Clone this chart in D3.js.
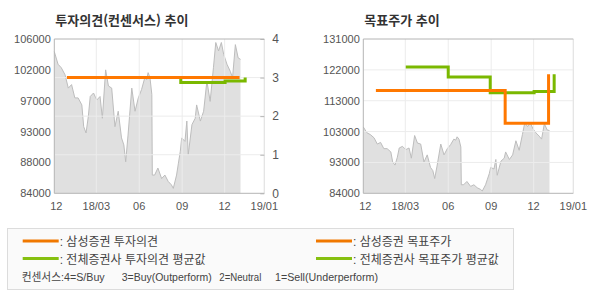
<!DOCTYPE html>
<html lang="ko">
<head>
  <meta charset="utf-8">
  <title>투자의견 / 목표주가 추이</title>
  <script src="https://d3js.org/d3.v7.min.js"></script>
  <style>
    body { margin: 0; background: #fff; }
    text { font-family: "Liberation Sans", "Noto Sans CJK KR", sans-serif; }
    .num { font-family: "Liberation Sans", Arial, sans-serif; font-size: 11px; fill: #555; }
  </style>
</head>
<body>
  <div id="chart"></div>

  <script>
    // price (same series on both charts)
    var priceDates = ["2017-12-01","2017-12-09","2017-12-16","2017-12-24","2017-12-31","2018-01-07","2018-01-14",
      "2018-01-21","2018-01-29","2018-02-02","2018-02-07","2018-02-12","2018-02-16","2018-02-23","2018-03-02",
      "2018-03-09","2018-03-14","2018-03-21","2018-03-27","2018-04-03","2018-04-10","2018-04-17","2018-04-24",
      "2018-04-29","2018-05-03","2018-05-08","2018-05-16","2018-05-23","2018-05-30","2018-06-06","2018-06-13",
      "2018-06-17","2018-06-20","2018-06-24","2018-06-28","2018-06-29","2018-07-04","2018-07-11","2018-07-19",
      "2018-07-26","2018-08-02","2018-08-09","2018-08-13","2018-08-20","2018-08-24","2018-08-28","2018-08-31",
      "2018-09-07","2018-09-11","2018-09-14","2018-09-22","2018-09-29","2018-10-02","2018-10-10","2018-10-17",
      "2018-10-24","2018-10-31","2018-11-07","2018-11-12","2018-11-18","2018-11-24","2018-11-29","2018-12-06",
      "2018-12-13","2018-12-18","2018-12-24","2018-12-30","2019-01-04"];
    var priceValues = [104200,102400,101900,100900,99000,99500,97600,
      97600,96600,93500,92600,95000,97800,98300,97300,
      97800,94700,101600,99300,99000,93500,95700,91900,
      90900,88500,92300,99000,95700,97600,98800,100500,
      100200,101200,100500,98100,86600,86600,87600,86100,
      86600,85700,85200,84700,86600,88300,90000,91900,
      91400,94300,89500,93800,94700,96600,94300,95700,
      100000,97100,101900,105500,104300,105500,103800,102400,
      101400,100500,105200,103300,103100];

    // investment opinion (0~4)
    var opinionDates = ["2017-12-28","2019-01-02"];
    var opinionValues = [3, 3];
    var opinionAvgDates = ["2018-08-29","2018-08-29","2018-12-02","2019-01-14"];
    var opinionAvgValues = [3.0, 2.87, 2.91, 3.0];

    // target price
    var targetDates = ["2017-12-28","2018-10-01","2019-01-02"];
    var targetValues = [115300, 105300, 120300];
    var targetAvgDates = ["2018-03-02","2018-06-01","2018-08-30","2018-12-02","2019-01-14"];
    var targetAvgValues = [122500, 119400, 114600, 115000, 120300];

    // axes
    var xTickDates = ["2017-12-01","2018-03-01","2018-06-01","2018-09-01","2018-12-01","2019-02-24"];
    var xTickLabels = ["12","18/03","06","09","12","19/01"];
    var leftDomain = [84000, 106000];
    var leftTickLabels = ["84000","88000","93000","97000","102000","106000"];
    var rightDomain = [84000, 131000];
    var rightTickLabels = ["84000","93000","103000","113000","122000","131000"];
    var opinionTicks = [0, 1, 2, 3, 4];

    var ORANGE = "#ff7800", GREEN = "#7ab800";
    var W = 590, H = 300, PW = 210, PH = 154.3, TOP = 39;

    var parse = d3.timeParse("%Y-%m-%d");
    var svg = d3.select("#chart").append("svg").attr("width", W).attr("height", H);

    var x = d3.scaleTime()
      .domain([parse(xTickDates[0]), parse(xTickDates[xTickDates.length - 1])])
      .range([0, PW]);

    var price = priceDates.map(function (d, i) { return { d: parse(d), v: priceValues[i] }; });
    function pts(dates, vals) {
      return dates.map(function (d, i) { return { d: parse(d), v: vals[i] }; });
    }

    function drawPanel(left, title, domain, tickLabels) {
      var g = svg.append("g").attr("transform", "translate(" + left + "," + TOP + ")");
      var y = d3.scaleLinear().domain(domain).range([PH, 0]);
      var yTicks = d3.range(6).map(function (i) { return domain[0] + (domain[1] - domain[0]) * i / 5; });

      svg.append("text").attr("x", left + 1).attr("y", 25)
        .style("font-family", "'Noto Sans CJK KR', sans-serif")
        .style("font-size", "13px").style("font-weight", "bold").style("fill", "#333")
        .text(title);

      // price area
      g.append("path").datum(price)
        .attr("fill", "#e0e0e0")
        .attr("d", d3.area().x(function (d) { return x(d.d); }).y0(PH).y1(function (d) { return y(d.v); }));
      g.append("path").datum(price)
        .attr("fill", "none").attr("stroke", "#bdbdbd").attr("stroke-width", 1)
        .attr("d", d3.line().x(function (d) { return x(d.d); }).y(function (d) { return y(d.v); }));

      // vertical grid
      g.selectAll(".vg").data(xTickDates.slice(1)).enter().append("line")
        .attr("x1", function (d) { return x(parse(d)); }).attr("x2", function (d) { return x(parse(d)); })
        .attr("y1", 0).attr("y2", PH).attr("stroke", "#ececec");

      // left axis labels
      g.selectAll(".yl").data(yTicks).enter().append("text")
        .attr("class", "num").attr("text-anchor", "end")
        .attr("x", -3.5).attr("y", function (d) { return y(d) + 4; })
        .text(function (d, i) { return tickLabels[i]; });

      // x labels
      g.selectAll(".xl").data(xTickDates).enter().append("text")
        .attr("class", "num").attr("text-anchor", "middle")
        .attr("x", function (d, i) { return x(parse(d)) + (i == 0 ? 2 : 0); }).attr("y", PH + 17)
        .text(function (d, i) { return xTickLabels[i]; });

      return { g: g, y: y, yTicks: yTicks };
    }

    function stepLine(g, data, xs, ys, color) {
      g.append("path").datum(data)
        .attr("fill", "none").attr("stroke", color).attr("stroke-width", 3)
        .attr("d", d3.line().curve(d3.curveStepAfter)
          .x(function (d) { return xs(d.d); }).y(function (d) { return ys(d.v); }));
    }

    // ---- left: 투자의견 ----
    var L = drawPanel(54.3, "투자의견(컨센서스) 추이", leftDomain, leftTickLabels);
    var yOp = d3.scaleLinear().domain([0, 4]).range([PH, 0]);
    L.g.selectAll(".hg").data(opinionTicks.slice(1, 4)).enter().append("line")
      .attr("x1", 0).attr("x2", PW).attr("y1", function (d) { return yOp(d); }).attr("y2", function (d) { return yOp(d); })
      .attr("stroke", "#ececec");
    L.g.append("line").attr("x1", PW).attr("x2", PW).attr("y1", 0).attr("y2", PH).attr("stroke", "#e3e3e3");
    L.g.append("line").attr("x1", 0).attr("x2", PW).attr("y1", 0).attr("y2", 0).attr("stroke", "#b4b4b4");
    L.g.append("line").attr("x1", 0).attr("x2", 0).attr("y1", 0).attr("y2", PH).attr("stroke", "#b4b4b4");
    L.g.append("line").attr("x1", 0).attr("x2", PW).attr("y1", PH).attr("y2", PH).attr("stroke", "#b4b4b4");
    var ra = L.g.append("g").attr("transform", "translate(" + PW + ",0)")
      .call(d3.axisRight(yOp).tickValues(opinionTicks).tickSize(-4).tickPadding(8).tickFormat(d3.format("d")));
    ra.select(".domain").remove();
    ra.selectAll("line").attr("stroke", "#b4b4b4");
    ra.selectAll("text").attr("class", "num").attr("font-family", null).attr("font-size", null).style("font-size", "12px");

    stepLine(L.g, pts(opinionAvgDates, opinionAvgValues), x, yOp, GREEN);
    stepLine(L.g, pts(opinionDates, opinionValues), x, yOp, ORANGE);

    // ---- right: 목표주가 ----
    var R = drawPanel(363.3, "목표주가 추이", rightDomain, rightTickLabels);
    R.g.selectAll(".hg").data(R.yTicks.slice(1, 5)).enter().append("line")
      .attr("x1", 0).attr("x2", PW).attr("y1", function (d) { return R.y(d); }).attr("y2", function (d) { return R.y(d); })
      .attr("stroke", "#ececec");
    R.g.append("line").attr("x1", PW).attr("x2", PW).attr("y1", 0).attr("y2", PH).attr("stroke", "#e3e3e3");
    R.g.append("line").attr("x1", 0).attr("x2", PW).attr("y1", 0).attr("y2", 0).attr("stroke", "#b4b4b4");
    R.g.append("line").attr("x1", 0).attr("x2", 0).attr("y1", 0).attr("y2", PH).attr("stroke", "#b4b4b4");
    R.g.append("line").attr("x1", 0).attr("x2", PW).attr("y1", PH).attr("y2", PH).attr("stroke", "#b4b4b4");

    stepLine(R.g, pts(targetAvgDates, targetAvgValues), x, R.y, GREEN);
    stepLine(R.g, pts(targetDates, targetValues), x, R.y, ORANGE);

    // ---- legend ----
    var lg = svg.append("g");
    lg.append("rect").attr("x", 7.5).attr("y", 228.5).attr("width", 506).attr("height", 61)
      .attr("fill", "#fafafa").attr("stroke", "#dcdcdc");
    var legendItems = [
      { x: 22.7, y: 241, color: "#f07800", label: ": 삼성증권 투자의견" },
      { x: 22.7, y: 258.5, color: "#86c010", label: ": 전체증권사 투자의견 평균값" },
      { x: 316, y: 241, color: "#f07800", label: ": 삼성증권 목표주가" },
      { x: 316, y: 258.5, color: "#86c010", label: ": 전체증권사 목표주가 평균값" }
    ];
    legendItems.forEach(function (it) {
      lg.append("line").attr("x1", it.x).attr("x2", it.x + 36).attr("y1", it.y).attr("y2", it.y)
        .attr("stroke", it.color).attr("stroke-width", 3);
      lg.append("text").attr("x", it.x + 37).attr("y", it.y + 5)
        .style("font-size", "12px").style("fill", "#444").text(it.label);
    });
    // consensus key, widths
    var consensus = [
      { x: 21.7, w: 83, t: "컨센서스:4=S/Buy" },
      { x: 121.7, w: 90, t: "3=Buy(Outperform)" },
      { x: 219.3, w: 42, t: "2=Neutral" },
      { x: 275, w: 103, t: "1=Sell(Underperform)" }
    ];
    consensus.forEach(function (c) {
      lg.append("text").attr("x", c.x).attr("y", 281)
        .attr("textLength", c.w).attr("lengthAdjust", "spacingAndGlyphs")
        .style("font-size", "11px").style("fill", "#444").text(c.t);
    });
  </script>
</body>
</html>
